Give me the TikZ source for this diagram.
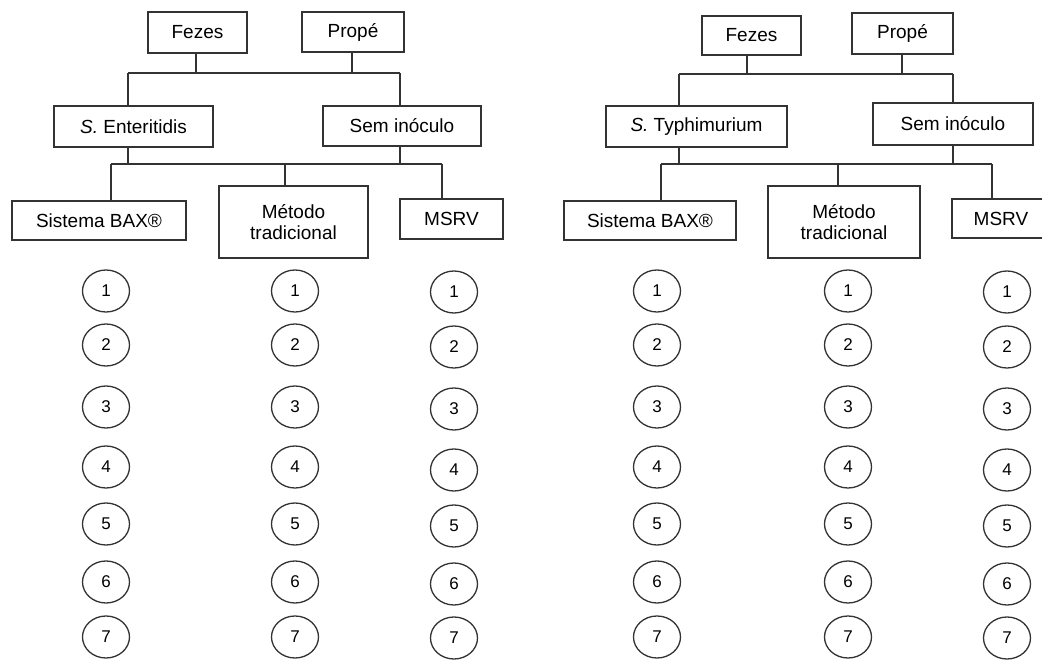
\documentclass[tikz,border=0pt]{standalone}
\usepackage{fontspec}
\setmainfont{Liberation Sans}
\usetikzlibrary{shapes.geometric}
\begin{document}
\begin{tikzpicture}[x=1pt,y=-1pt,
  every node/.style={font=\fontsize{19}{21}\selectfont},
  lbox/.style={draw=black!80,line width=1.4pt,rectangle,inner sep=0pt,align=center},
  wire/.style={draw=black!80,line width=1.3pt},
  num/.style={draw=black!80,line width=1.3pt,ellipse,minimum width=47pt,minimum height=42pt,inner sep=0pt,font=\fontsize{17}{17}\selectfont}]
\useasboundingbox (0,0) rectangle (1042,660);
% ---------- left tree ----------
\node[lbox,minimum width=99pt,minimum height=41pt] (fz1) at (197.5,32.5) {Fezes};
\node[lbox,minimum width=102pt,minimum height=40pt] (pr1) at (353,32) {Propé};
\node[lbox,minimum width=159pt,minimum height=41pt] (se1) at (133.5,126.5) {\textit{S.} Enteritidis};
\node[lbox,minimum width=158pt,minimum height=40pt] (si1) at (402,126) {Sem inóculo};
\node[lbox,minimum width=174pt,minimum height=39pt] (bax1) at (99,220.5) {Sistema BAX®};
\node[lbox,minimum width=149pt,minimum height=72pt] (met1) at (293.5,222) {Método\\tradicional};
\node[lbox,minimum width=103pt,minimum height=40pt] (msrv1) at (451.5,219) {MSRV};
\coordinate (aL) at (128,73); \coordinate (aR) at (400,73);
\coordinate (bL) at (111,164); \coordinate (bM) at (285,164); \coordinate (bR) at (442,164);
\coordinate (fz1x) at (196,0); \coordinate (pr1x) at (352,0);
\draw[wire] (aL) -- (aR);
\draw[wire] (fz1.south -| fz1x) -- (aL -| fz1x);
\draw[wire] (pr1.south -| pr1x) -- (aL -| pr1x);
\draw[wire] (aL) -- (se1.north -| aL);
\draw[wire] (aR) -- (si1.north -| aR);
\draw[wire] (bL) -- (bR);
\draw[wire] (se1.south -| aL) -- (bL -| aL);
\draw[wire] (si1.south -| aR) -- (bL -| aR);
\draw[wire] (bL) -- (bax1.north -| bL);
\draw[wire] (bM) -- (met1.north -| bM);
\draw[wire] (bR) -- (msrv1.north -| bR);
% ---------- right tree ----------
\node[lbox,minimum width=99pt,minimum height=39pt] (fz2) at (751.5,35.5) {Fezes};
\node[lbox,minimum width=101pt,minimum height=41pt] (pr2) at (902.5,33.5) {Propé};
\node[lbox,minimum width=181pt,minimum height=41pt] (st2) at (696.5,126.5) {\textit{S.} Typhimurium};
\node[lbox,minimum width=160pt,minimum height=42pt] (si2) at (953,124) {Sem inóculo};
\node[lbox,minimum width=172pt,minimum height=39pt] (bax2) at (650,220.5) {Sistema BAX®};
\node[lbox,minimum width=152pt,minimum height=72pt] (met2) at (844,222) {Método\\tradicional};
\node[lbox,minimum width=98pt,minimum height=39pt] (msrv2) at (1001,218.5) {MSRV};
\coordinate (cL) at (679,74); \coordinate (cR) at (953,74);
\coordinate (dL) at (661,164); \coordinate (dM) at (838,164); \coordinate (dR) at (992,164);
\coordinate (fzx) at (747,0); \coordinate (prx) at (902,0);
\draw[wire] (cL) -- (cR);
\draw[wire] (fz2.south -| fzx) -- (cL -| fzx);
\draw[wire] (pr2.south -| prx) -- (cL -| prx);
\draw[wire] (cL) -- (st2.north -| cL);
\draw[wire] (cR) -- (si2.north -| cR);
\draw[wire] (dL) -- (dR);
\draw[wire] (st2.south -| cL) -- (dL -| cL);
\draw[wire] (si2.south -| cR) -- (dL -| cR);
\draw[wire] (dL) -- (bax2.north -| dL);
\draw[wire] (dM) -- (met2.north -| dM);
\draw[wire] (dR) -- (msrv2.north -| dR);
% ---------- numbered samples ----------
\foreach \n/\y/\yy in {1/291/292,2/345/347,3/407/409,4/467/470,5/524/526,6/582/584,7/637/638}{
  \node[num] (l1n\n) at (106,\y) {\n};
  \node[num] (l2n\n) at (295,\y) {\n};
  \node[num] (l3n\n) at (454,\yy) {\n};
  \node[num] (r1n\n) at (657,\y) {\n};
  \node[num] (r2n\n) at (848,\y) {\n};
  \node[num] (r3n\n) at (1007,\yy) {\n};
}
\end{tikzpicture}
\end{document}
